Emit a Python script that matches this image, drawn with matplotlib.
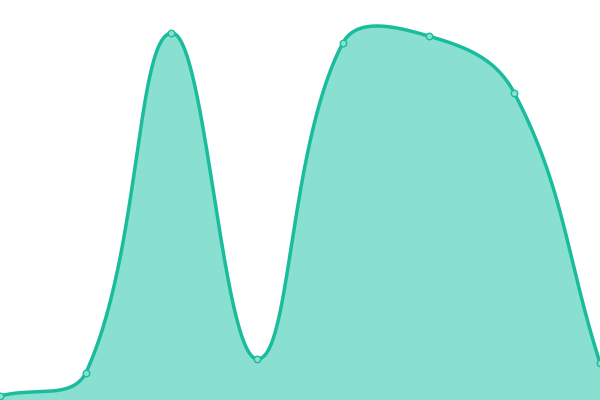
import numpy as np
import matplotlib
matplotlib.use("Agg")
import matplotlib.pyplot as plt

# data (hidden axes, 0..100 scale)
labels = ["A", "B", "C", "D", "E", "F", "G", "H"]
values = [1, 6.75, 91.75, 10.25, 89.25, 91, 76.75, 9.25]

LINE = "#1abc9c"
FILL = "#89e0d0"
W, H = 600, 400
TENSION = 0.4


def spline_path(px, py, tension=TENSION, steps=60):
    # chart.js style cardinal-ish spline through pixel points
    n = len(px)
    cps = []
    for i in range(n):
        pp = (px[max(i - 1, 0)], py[max(i - 1, 0)])
        cp = (px[i], py[i])
        np_ = (px[min(i + 1, n - 1)], py[min(i + 1, n - 1)])
        d01 = np.hypot(cp[0] - pp[0], cp[1] - pp[1])
        d12 = np.hypot(np_[0] - cp[0], np_[1] - cp[1])
        tot = d01 + d12
        s01 = d01 / tot if tot else 0
        s12 = d12 / tot if tot else 0
        fa, fb = tension * s01, tension * s12
        c1 = (cp[0] - fa * (np_[0] - pp[0]), cp[1] - fa * (np_[1] - pp[1]))
        c2 = (cp[0] + fb * (np_[0] - pp[0]), cp[1] + fb * (np_[1] - pp[1]))
        c1 = (min(max(c1[0], 0), W), min(max(c1[1], 0), H))
        c2 = (min(max(c2[0], 0), W), min(max(c2[1], 0), H))
        cps.append((c1, c2))
    xs, ys = [], []
    t = np.linspace(0, 1, steps)
    for i in range(n - 1):
        p0 = np.array([px[i], py[i]])
        p1 = np.array(cps[i][1])
        p2 = np.array(cps[i + 1][0])
        p3 = np.array([px[i + 1], py[i + 1]])
        pts = ((1 - t) ** 3)[:, None] * p0 + (3 * (1 - t) ** 2 * t)[:, None] * p1 \
            + (3 * (1 - t) * t ** 2)[:, None] * p2 + (t ** 3)[:, None] * p3
        xs.extend(pts[:, 0])
        ys.extend(pts[:, 1])
    return np.array(xs), np.array(ys)


fig = plt.figure(figsize=(6, 4), dpi=100)
ax = fig.add_axes([0, 0, 1, 1])
ax.set_xlim(0, W)
ax.set_ylim(H, 0)
ax.axis("off")

px = np.linspace(0, W, len(values))
py = H - np.array(values) / 100 * H
sx, sy = spline_path(px, py)

ax.fill_between(sx, sy, H, color=FILL, linewidth=0)
ax.plot(sx, sy, color=LINE, linewidth=2.5, solid_capstyle="round", clip_on=False)
ax.scatter(px, py, s=22, facecolor=FILL, edgecolor=LINE, linewidth=1, zorder=3, clip_on=False)

fig.savefig("out.png", dpi=100)
